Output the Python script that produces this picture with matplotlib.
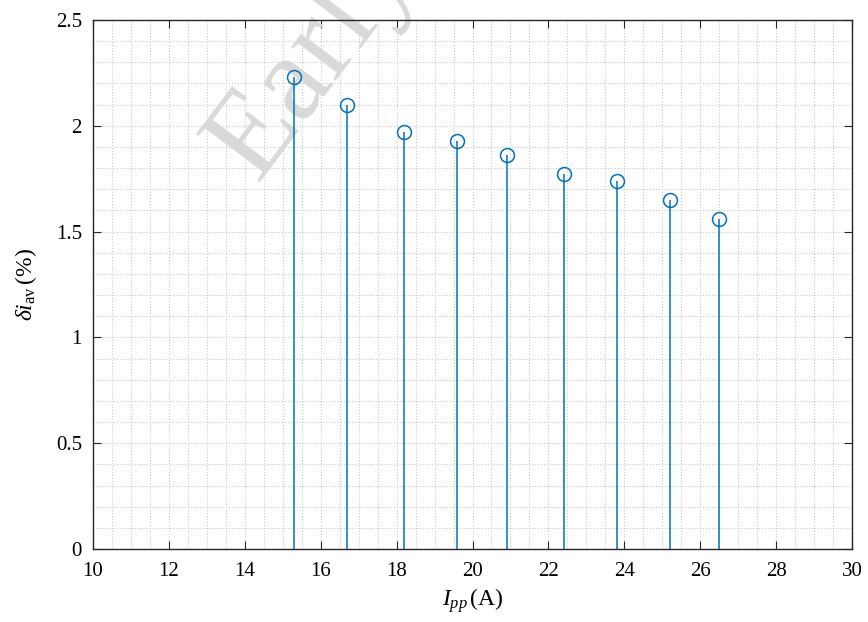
import numpy as np
import matplotlib
matplotlib.use("Agg")
import matplotlib.pyplot as plt
from matplotlib.ticker import MultipleLocator, FormatStrFormatter

plt.rcParams['font.family'] = ['Liberation Serif', 'DejaVu Serif']
plt.rcParams['mathtext.fontset'] = 'custom'
plt.rcParams['mathtext.rm'] = 'Liberation Serif'
plt.rcParams['mathtext.it'] = 'Liberation Serif:italic'

# data
ipp = [15.3, 16.7, 18.2, 19.6, 20.9, 22.4, 23.8, 25.2, 26.5]
di_av = [2.23, 2.10, 1.97, 1.93, 1.86, 1.77, 1.74, 1.65, 1.56]

blue = '#0072BD'

fig = plt.figure(figsize=(8.68, 6.22), dpi=100)
ax = fig.add_axes([93/868, 1-549/622, 759/868, 529/622])

# watermark, over the grid but under the stems
ax.text(0.36, 0.905, 'Early', transform=fig.transFigure, fontsize=88,
        color='#d9d9d9', rotation=53, ha='center', va='center',
        zorder=1.5, clip_on=False)

ml, sl, bl = ax.stem(ipp, di_av, basefmt=' ')
plt.setp(sl, color=blue, linewidth=1.1, zorder=2)
plt.setp(ml, color=blue, markerfacecolor='none', markersize=10,
         markeredgewidth=1.1, zorder=3)

ax.set_xlim(10, 30)
ax.set_ylim(0, 2.5)
ax.xaxis.set_major_locator(MultipleLocator(2))
ax.xaxis.set_minor_locator(MultipleLocator(0.5))
ax.yaxis.set_major_locator(MultipleLocator(0.5))
ax.yaxis.set_minor_locator(MultipleLocator(0.1))
ax.yaxis.set_major_formatter(FormatStrFormatter('%g'))

ax.grid(True, which='both', linestyle=':', color='#c8c8c8', linewidth=0.8)
ax.set_axisbelow(True)
ax.tick_params(which='major', direction='in', top=True, right=True, length=6,
               labelsize=15, color='#262626')
ax.tick_params(axis='x', pad=9)
ax.tick_params(axis='y', pad=8)
ax.tick_params(which='minor', length=0)
for s in ax.spines.values():
    s.set_color('#262626')
    s.set_linewidth(1.0)

ax.set_xlabel(r'$I_{pp}\,$(A)', fontsize=17, labelpad=4)
ax.set_ylabel(r'$\delta i_{\mathrm{av}}\,$(%)', fontsize=17, labelpad=12)

fig.savefig('out.png', dpi=100)
